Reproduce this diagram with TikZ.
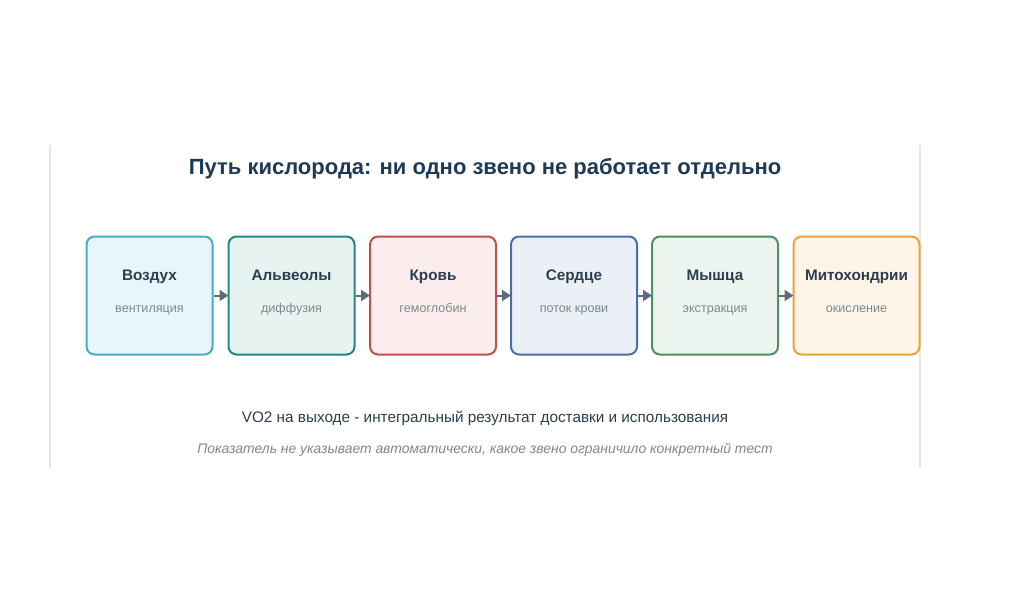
\documentclass[tikz,border=0pt]{standalone}
\usepackage{fontspec}
\setmainfont{Liberation Sans}
\usetikzlibrary{arrows.meta}
\definecolor{titlec}{HTML}{1E3A56}
\definecolor{darkc}{HTML}{2C3E50}
\definecolor{subc}{HTML}{7B8A8B}
\definecolor{arrc}{HTML}{5D6D7E}
\definecolor{framec}{HTML}{E0E7EA}
\definecolor{dA}{HTML}{4AABC4}\definecolor{fA}{HTML}{E8F5FA}
\definecolor{dB}{HTML}{22897A}\definecolor{fB}{HTML}{E6F3F0}
\definecolor{dC}{HTML}{C0504D}\definecolor{fC}{HTML}{FBEDED}
\definecolor{dD}{HTML}{4A6FA5}\definecolor{fD}{HTML}{EBF0F7}
\definecolor{dE}{HTML}{4E8F63}\definecolor{fE}{HTML}{EBF4EE}
\definecolor{dF}{HTML}{EAA33C}\definecolor{fF}{HTML}{FEF5E8}
\tikzset{
  stage/.style={draw=#1, line width=2pt, rounded corners=8pt, minimum width=126pt, minimum height=118pt, inner sep=0pt},
  stagetitle/.style={font=\fontsize{15.3}{17}\selectfont\bfseries, text=darkc, anchor=base, inner sep=0pt},
  stagesub/.style={font=\fontsize{12.6}{15}\selectfont, text=subc, anchor=base, inner sep=0pt},
  link/.style={draw=arrc, line width=2pt, -{Triangle[length=9pt,width=11pt]}, shorten >=-1pt},
  framel/.style={draw=framec, line width=1.3pt}
}
\begin{document}
\begin{tikzpicture}[x=1pt,y=-1pt]
\useasboundingbox (0,0) rectangle (1024,614);
\fill[white] (0,0) rectangle (1024,614);
\coordinate (fl1) at (50,145); \coordinate (fl2) at (50,468);
\coordinate (fr1) at (920,145); \coordinate (fr2) at (920,468);
\draw[framel] (fl1) -- (fl2);
\draw[framel] (fr1) -- (fr2);
\node[font=\fontsize{22}{25}\selectfont\bfseries, text=titlec, anchor=base, inner sep=0pt] (title) at (485,174) {Путь кислорода: ни одно звено не работает отдельно};
\foreach \i/\x/\c/\t/\s in {1/149.5/A/Воздух/вентиляция, 2/291.5/B/Альвеолы/диффузия, 3/433/C/Кровь/гемоглобин, 4/574/D/Сердце/поток крови, 5/715/E/Мышца/экстракция, 6/856.5/F/Митохондрии/окисление}{
  \node[stage=d\c, fill=f\c] (b\i) at (\x,295.5) {};
  \node[stagetitle] (t\i) at (\x,280.5) {\t};
  \node[stagesub] (s\i) at (\x,312.5) {\s};
}
\foreach \a/\b in {1/2,2/3,3/4,4/5,5/6}{
  \draw[link] (b\a.east) -- (b\b.west);
}
\node[font=\fontsize{15.3}{18}\selectfont, text=darkc, anchor=base, inner sep=0pt] (vo2) at (485,422.5) {VO2 на выходе - интегральный результат доставки и использования};
\node[font=\fontsize{13.9}{16}\selectfont\itshape, text=subc, anchor=base, inner sep=0pt] (note) at (485,453) {Показатель не указывает автоматически, какое звено ограничило конкретный тест};
\end{tikzpicture}
\end{document}
